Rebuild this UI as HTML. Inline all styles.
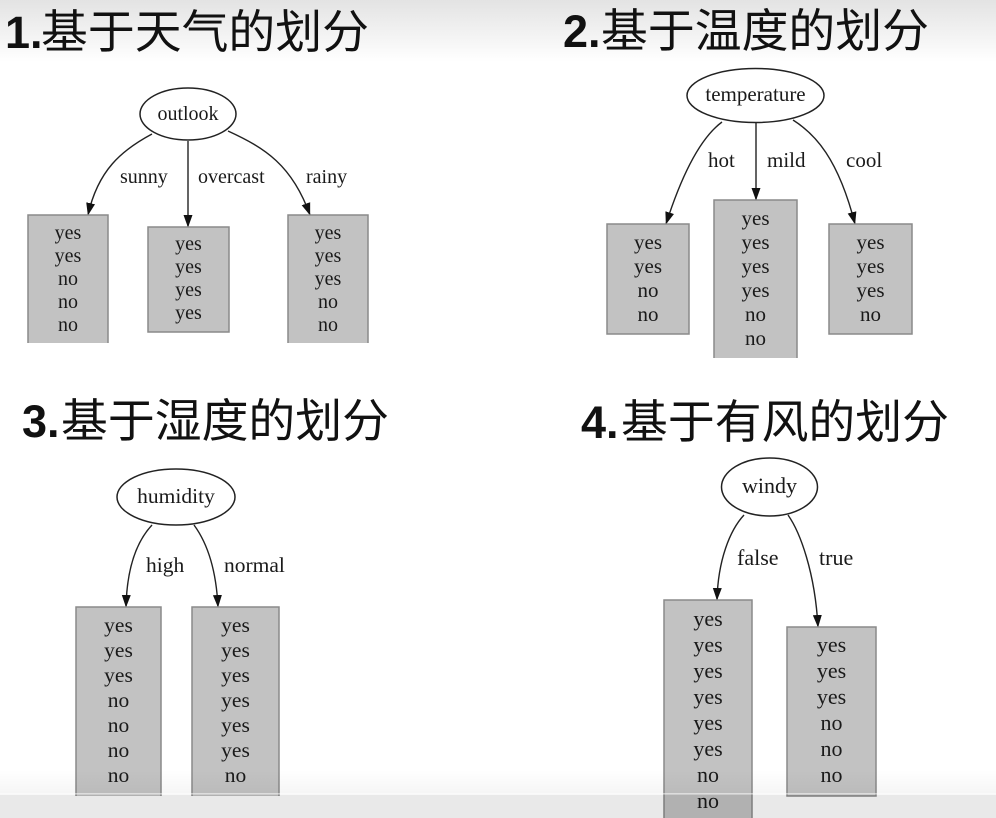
<!DOCTYPE html>
<html>
<head>
<meta charset="utf-8">
<style>
  html,body{margin:0;padding:0;background:#fff;}
  body{width:996px;height:818px;overflow:hidden;}
  svg{display:block;}
  .t{font-family:"Liberation Serif","DejaVu Serif",serif;fill:#1a1a1a;}
  .num{font-family:"Liberation Sans",sans-serif;font-weight:bold;fill:#111;}
  .cjk{font-family:"Liberation Sans","Noto Sans CJK SC","WenQuanYi Zen Hei",sans-serif;fill:#111;}
  .box{fill:#c2c2c2;stroke:#8a8a8a;stroke-width:1.5;}
  .edge{fill:none;stroke:#222;stroke-width:1.4;}
  .node{fill:#fff;stroke:#222;stroke-width:1.5;}
</style>
</head>
<body>
<svg width="996" height="818" viewBox="0 0 996 818" xmlns="http://www.w3.org/2000/svg">
  <defs>
    <linearGradient id="top" x1="0" y1="0" x2="0" y2="1">
      <stop offset="0" stop-color="#e3e3e3"/>
      <stop offset="1" stop-color="#ffffff"/>
    </linearGradient>
    <linearGradient id="bot" x1="0" y1="0" x2="0" y2="1">
      <stop offset="0" stop-color="#000" stop-opacity="0"/>
      <stop offset="1" stop-color="#000" stop-opacity="0.04"/>
    </linearGradient>
    <marker id="ar" markerUnits="userSpaceOnUse" markerWidth="13" markerHeight="10" viewBox="0 0 13 10" refX="12" refY="5" orient="auto">
      <path d="M0,0.5 L12.5,5 L0,9.5 z" fill="#111"/>
    </marker>
  </defs>

  <rect x="0" y="0" width="996" height="818" fill="#fff"/>
  <rect x="0" y="0" width="996" height="62" fill="url(#top)"/>

  <!-- Titles -->
  <text class="num" x="5" y="48" font-size="45">1.</text>
  <text class="cjk" x="41" y="48" font-size="46" textLength="328" lengthAdjust="spacingAndGlyphs">基于天气的划分</text>

  <text class="num" x="563" y="47" font-size="45">2.</text>
  <text class="cjk" x="601" y="47" font-size="46" textLength="328" lengthAdjust="spacingAndGlyphs">基于温度的划分</text>

  <text class="num" x="22" y="437" font-size="45">3.</text>
  <text class="cjk" x="61" y="437" font-size="46" textLength="328" lengthAdjust="spacingAndGlyphs">基于湿度的划分</text>

  <text class="num" x="581" y="438" font-size="45">4.</text>
  <text class="cjk" x="621" y="438" font-size="46" textLength="328" lengthAdjust="spacingAndGlyphs">基于有风的划分</text>

  <!-- Panel 1 -->
  <path class="edge" d="M152,134 C122,150 98,170 88,215" marker-end="url(#ar)"/>
  <path class="edge" d="M188,141 L188,227" marker-end="url(#ar)"/>
  <path class="edge" d="M228,131 C265,148 292,165 310,215" marker-end="url(#ar)"/>
  <ellipse class="node" cx="188" cy="114" rx="48" ry="26"/>
  <text class="t" x="188" y="120" font-size="20" text-anchor="middle">outlook</text>
  <g class="t" font-size="20">
    <text x="120" y="183">sunny</text>
    <text x="198" y="183">overcast</text>
    <text x="306" y="183">rainy</text>
  </g>
  <path class="box" d="M28,343 L28,215 L108,215 L108,343"/>
  <rect class="box" x="148" y="227" width="81" height="105"/>
  <path class="box" d="M288,343 L288,215 L368,215 L368,343"/>
  <g class="t" font-size="20" text-anchor="middle">
    <text x="68" y="239">yes</text><text x="68" y="262">yes</text><text x="68" y="285">no</text><text x="68" y="308">no</text><text x="68" y="331">no</text>
    <text x="188.5" y="250">yes</text><text x="188.5" y="273">yes</text><text x="188.5" y="296">yes</text><text x="188.5" y="319">yes</text>
    <text x="328" y="239">yes</text><text x="328" y="262">yes</text><text x="328" y="285">yes</text><text x="328" y="308">no</text><text x="328" y="331">no</text>
  </g>

  <!-- Panel 2 -->
  <path class="edge" d="M722,122 C703,136 684,168 666,224" marker-end="url(#ar)"/>
  <path class="edge" d="M756,123 L756,200" marker-end="url(#ar)"/>
  <path class="edge" d="M793,120 C815,134 838,158 855,224" marker-end="url(#ar)"/>
  <ellipse class="node" cx="755.5" cy="95.5" rx="68.5" ry="27"/>
  <text class="t" x="755.5" y="101" font-size="21" text-anchor="middle">temperature</text>
  <g class="t" font-size="21">
    <text x="708" y="167">hot</text>
    <text x="767" y="167">mild</text>
    <text x="846" y="167">cool</text>
  </g>
  <rect class="box" x="607" y="224" width="82" height="110"/>
  <path class="box" d="M714,358 L714,200 L797,200 L797,358"/>
  <rect class="box" x="829" y="224" width="83" height="110"/>
  <g class="t" font-size="21" text-anchor="middle">
    <text x="648" y="249">yes</text><text x="648" y="273">yes</text><text x="648" y="297">no</text><text x="648" y="321">no</text>
    <text x="755.5" y="225">yes</text><text x="755.5" y="249">yes</text><text x="755.5" y="273">yes</text><text x="755.5" y="297">yes</text><text x="755.5" y="321">no</text><text x="755.5" y="345">no</text>
    <text x="870.5" y="249">yes</text><text x="870.5" y="273">yes</text><text x="870.5" y="297">yes</text><text x="870.5" y="321">no</text>
  </g>

  <!-- Panel 3 -->
  <path class="edge" d="M152,525 C138,540 127,565 126,607" marker-end="url(#ar)"/>
  <path class="edge" d="M194,525 C205,540 216,565 218,607" marker-end="url(#ar)"/>
  <ellipse class="node" cx="176" cy="497" rx="59" ry="28"/>
  <text class="t" x="176" y="503" font-size="21.5" text-anchor="middle">humidity</text>
  <g class="t" font-size="21.5">
    <text x="146" y="572">high</text>
    <text x="224" y="572">normal</text>
  </g>
  <path class="box" d="M76,796 L76,607 L161,607 L161,796"/>
  <path class="box" d="M192,796 L192,607 L279,607 L279,796"/>
  <g class="t" font-size="21.5" text-anchor="middle">
    <text x="118.5" y="632">yes</text><text x="118.5" y="657">yes</text><text x="118.5" y="682">yes</text><text x="118.5" y="707">no</text><text x="118.5" y="732">no</text><text x="118.5" y="757">no</text><text x="118.5" y="782">no</text>
    <text x="235.5" y="632">yes</text><text x="235.5" y="657">yes</text><text x="235.5" y="682">yes</text><text x="235.5" y="707">yes</text><text x="235.5" y="732">yes</text><text x="235.5" y="757">yes</text><text x="235.5" y="782">no</text>
  </g>

  <!-- Panel 4 -->
  <path class="edge" d="M744,515 C730,530 718,560 717,600" marker-end="url(#ar)"/>
  <path class="edge" d="M788,515 C800,532 815,572 818,627" marker-end="url(#ar)"/>
  <ellipse class="node" cx="769.5" cy="487" rx="48" ry="29"/>
  <text class="t" x="769.5" y="493" font-size="22" text-anchor="middle">windy</text>
  <g class="t" font-size="22">
    <text x="737" y="565">false</text>
    <text x="819" y="565">true</text>
  </g>
  <path class="box" d="M664,820 L664,600 L752,600 L752,820"/>
  <rect class="box" x="787" y="627" width="89" height="169"/>
  <g class="t" font-size="22" text-anchor="middle">
    <text x="708" y="626">yes</text><text x="708" y="652">yes</text><text x="708" y="678">yes</text><text x="708" y="704">yes</text><text x="708" y="730">yes</text><text x="708" y="756">yes</text><text x="708" y="782">no</text><text x="708" y="808">no</text>
    <text x="831.5" y="652">yes</text><text x="831.5" y="678">yes</text><text x="831.5" y="704">yes</text><text x="831.5" y="730">no</text><text x="831.5" y="756">no</text><text x="831.5" y="782">no</text>
  </g>

  <!-- bottom band -->
  <rect x="0" y="770" width="996" height="25" fill="url(#bot)"/>
  <rect x="0" y="793" width="996" height="1.5" fill="#fff" opacity="0.5"/>
  <rect x="0" y="795" width="996" height="23" fill="#000" opacity="0.085"/>
</svg>
</body>
</html>
